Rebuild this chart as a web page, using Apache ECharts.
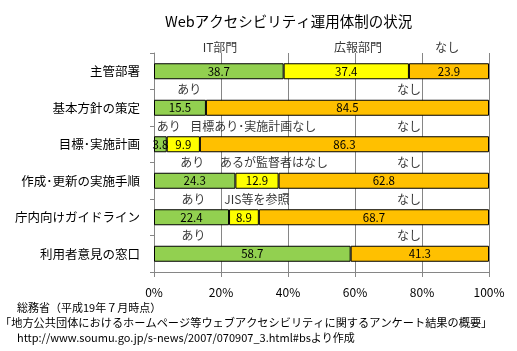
<!DOCTYPE html>
<html>
<head>
<meta charset="utf-8">
<script src="https://cdn.jsdelivr.net/npm/echarts@6/dist/echarts.min.js"></script>
<style>
  html, body { margin: 0; padding: 0; background: #fff; }
  #chart { width: 517px; height: 351px; }
</style>
</head>
<body>
<div id="chart"></div>
<script>
// categories, top to bottom
const categories = ['主管部署', '基本方針の策定', '目標･実施計画', '作成･更新の実施手順', '庁内向けガイドライン', '利用者意見の窓口']
// percent values (first / middle / last segment)
const firstSeg = [38.7, 15.5, 3.8, 24.3, 22.4, 58.7]
const middleSeg = [37.4, 0, 9.9, 12.9, 8.9, 0]
const lastSeg = [23.9, 84.5, 86.3, 62.8, 68.7, 41.3]
const xTicks = [0, 20, 40, 60, 80, 100]

// text notes written above each bar: [x in %, row, text]
const headerNotes = [
  [19.7, 0, 'IT部門'],
  [60.9, 0, '広報部門'],
  [87.5, 0, 'なし']
]
const rowNotes = [
  [10.5, 1, 'あり'], [76.1, 1, 'なし'],
  [4.4, 2, 'あり'], [29.6, 2, '目標あり･実施計画なし'], [76.1, 2, 'なし'],
  [11.4, 3, 'あり'], [35.8, 3, 'あるが監督者はなし'], [76.1, 3, 'なし'],
  [11.8, 4, 'あり'], [30.7, 4, 'JIS等を参照'], [76.1, 4, 'なし'],
  [11.8, 5, 'あり'], [76.1, 5, 'なし']
]

const FONT = '"Noto Sans CJK JP", sans-serif'
const chart = echarts.init(document.getElementById('chart'))

const barSeries = (name, data, color) => ({
  name: name,
  type: 'bar',
  stack: 'all',
  barWidth: 16,
  data: data.map(v => (v === 0 ? '-' : v)),
  itemStyle: { color: color, borderColor: '#000', borderWidth: 1 },
  label: {
    show: true,
    position: 'inside',
    color: '#000',
    fontFamily: FONT,
    fontSize: 11.5,
    formatter: p => p.value.toFixed(1)
  },
  emphasis: { disabled: true },
  animation: false
})

const noteSeries = (notes, dy) => ({
  type: 'scatter',
  symbolSize: 0,
  silent: true,
  z: 10,
  data: notes.map(n => ({ value: [n[0], n[1]], name: n[2] })),
  label: {
    show: true,
    position: 'inside',
    offset: [0, dy],
    color: '#000',
    fontFamily: FONT,
    fontSize: 12,
    formatter: p => p.name
  },
  animation: false
})

const option = {
  backgroundColor: '#fff',
  textStyle: { fontFamily: FONT },
  title: {
    text: 'Webアクセシビリティ運用体制の状況',
    left: 160,
    top: 9,
    textStyle: { fontFamily: FONT, fontSize: 14.5, fontWeight: 'normal', color: '#000' }
  },
  grid: { left: 154, right: 28, top: 53, bottom: 79, containLabel: false },
  xAxis: {
    type: 'value',
    min: 0,
    max: 100,
    interval: 20,
    axisLine: { show: true, lineStyle: { color: '#868686' } },
    axisTick: { show: true, length: 5, lineStyle: { color: '#868686' } },
    axisLabel: {
      margin: 14,
      color: '#000',
      fontFamily: FONT,
      fontSize: 12,
      formatter: v => (xTicks.includes(v) ? v + '%' : '')
    },
    splitLine: { show: true, lineStyle: { color: '#868686', width: 1 } }
  },
  yAxis: {
    type: 'category',
    inverse: true,
    data: categories,
    axisLine: { show: true, lineStyle: { color: '#868686' } },
    axisTick: { show: true, length: 4, lineStyle: { color: '#868686' } },
    axisLabel: { margin: 14, color: '#000', fontFamily: FONT, fontSize: 12.5 }
  },
  series: [
    barSeries('first', firstSeg, '#92D050'),
    barSeries('middle', middleSeg, '#FFFF00'),
    barSeries('last', lastSeg, '#FFC000'),
    noteSeries(headerNotes, -24),
    noteSeries(rowNotes, -18)
  ],
  graphic: [
    { type: 'text', left: 17, top: 302, style: { text: '総務省（平成19年７月時点）', font: '11px ' + FONT, fill: '#000' } },
    { type: 'text', left: 0, top: 317, style: { text: '「地方公共団体におけるホームページ等ウェブアクセシビリティに関するアンケート結果の概要」', font: '11.2px ' + FONT, fill: '#000' } },
    { type: 'text', left: 17, top: 332, style: { text: 'http://www.soumu.go.jp/s-news/2007/070907_3.html#bsより作成', font: '11px ' + FONT, fill: '#000' } }
  ]
}

chart.setOption(option)
</script>
</body>
</html>
